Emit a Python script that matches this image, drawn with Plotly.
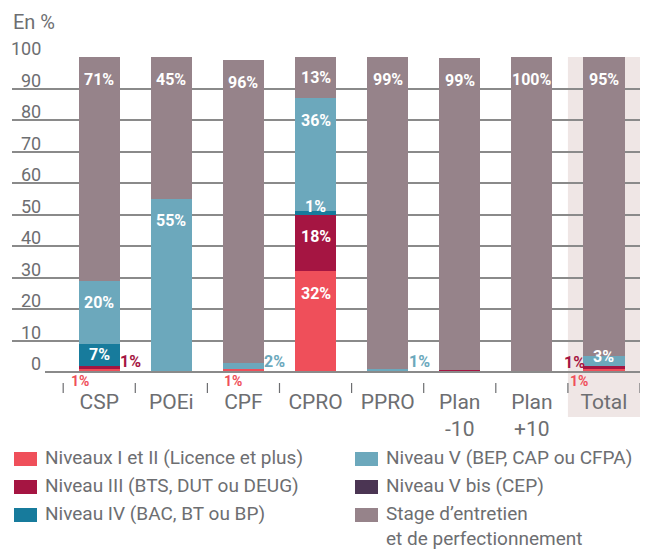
import plotly.graph_objects as go

# ---- data -------------------------------------------------------------
categories = ["CSP", "POEi", "CPF", "CPRO", "PPRO", "Plan -10", "Plan +10", "Total"]
tick_labels = ["CSP", "POEi", "CPF", "CPRO", "PPRO", "Plan<br>-10", "Plan<br>+10", "Total"]

series_names = [
    "Niveaux I et II (Licence et plus)",
    "Niveau III (BTS, DUT ou DEUG)",
    "Niveau IV (BAC, BT ou BP)",
    "Niveau V (BEP, CAP ou CFPA)",
    "Niveau V bis (CEP)",
    "Stage d\u2019entretien<br>et de perfectionnement",
]
niv_1_2 = [1, 0, 1, 32, 0, 0.3, 0, 1]
niv_3 = [1, 0, 0, 18, 0, 0.3, 0, 1]
niv_4 = [7, 0, 0, 1, 0, 0, 0, 0]
niv_5 = [20, 55, 2, 36, 1, 0, 0, 3]
niv_5bis = [0, 0, 0, 0, 0, 0, 0, 0]
stage = [71, 45, 96, 13, 99, 99, 100, 95]

y_ticks = [0, 10, 20, 30, 40, 50, 60, 70, 80, 90, 100]

# ---- styling ------------------------------------------------------------
colors = ["#EF4F5A", "#A51542", "#177B9C", "#6CA8BC", "#4B3553", "#96838A"]
GREY = "#6D6E71"
GRID = "#8A8A8A"
FONT = "Roboto"
W, H = 652, 551
ML, MR, MT, MB = 12, 12, 57, 179
PW, PH = W - ML - MR, H - MT - MB
BAR_W = 0.57
X_RANGE = [-1.21, 7.5]

series = [niv_1_2, niv_3, niv_4, niv_5, niv_5bis, stage]


def px_x(x):
    return (x - ML) / PW


def px_y(y):
    return (H - MB - y) / PH


fig = go.Figure()
for name, vals, col in zip(series_names, series, colors):
    fig.add_trace(go.Bar(
        x=categories, y=vals, name=name, width=BAR_W,
        marker=dict(color=col, line=dict(width=0)),
        showlegend=False, hoverinfo="x+y",
    ))

# value labels: where a segment is too thin, the label moves outside the bar
outside = {
    ("CSP", 0): ("below", -9),
    ("CSP", 1): ("right", -2),
    ("CPF", 0): ("below", 0),
    ("CPF", 3): ("right", -2),
    ("PPRO", 3): ("right", -1),
    ("Total", 0): ("below", -14),
    ("Total", 1): ("left", 4),
    ("CPRO", 2): ("over", 5),
    ("Total", 3): ("over", 0),
}
annotations = []
for ci, cat in enumerate(categories):
    base = 0.0
    for si, vals in enumerate(series):
        v = vals[ci]
        if v < 1:
            base += v
            continue
        top = base + v
        label = f"{v:g}%"
        mode = outside.get((cat, si))
        if mode is None:
            y = max(top - 7, (base + top) / 2)
            annotations.append(dict(x=ci, y=y, xref="x", yref="y", text=label, showarrow=False,
                                    yanchor="middle", font=dict(family=FONT, size=16, color="white", weight=700)))
        elif mode[0] == "over":
            annotations.append(dict(x=ci, y=top, xref="x", yref="y", text=label, showarrow=False,
                                    yanchor="middle", yshift=mode[1],
                                    font=dict(family=FONT, size=16, color="white", weight=700)))
        elif mode[0] == "right":
            annotations.append(dict(x=ci + BAR_W / 2, y=0, xref="x", yref="y", text=label, showarrow=False,
                                    xanchor="left", yanchor="bottom", xshift=mode[1], yshift=-1,
                                    font=dict(family=FONT, size=16, color=colors[si], weight=700)))
        elif mode[0] == "left":
            annotations.append(dict(x=ci - BAR_W / 2, y=0, xref="x", yref="y", text=label, showarrow=False,
                                    xanchor="right", yanchor="bottom", xshift=mode[1], yshift=-2,
                                    font=dict(family=FONT, size=16, color=colors[si], weight=700)))
        else:  # below the axis
            annotations.append(dict(x=ci - BAR_W / 2, y=0, xref="x", yref="y", text=label, showarrow=False,
                                    xanchor="left", yanchor="top", xshift=mode[1], yshift=0,
                                    borderpad=0, font=dict(family=FONT, size=14, color=colors[si], weight=700)))
        base = top

# y tick labels sit on top of their gridlines
for t in y_ticks:
    annotations.append(dict(x=px_x(43), y=t, xref="paper", yref="y", text=str(t), showarrow=False,
                            xanchor="right", yanchor="bottom", yshift=-4,
                            font=dict(family=FONT, size=18, color=GREY)))

annotations.append(dict(x=px_x(11), y=px_y(22), xref="paper", yref="paper", text="En %", showarrow=False,
                        xanchor="left", yanchor="middle", font=dict(family=FONT, size=20, color=GREY)))

shapes = []
# shaded "Total" column
shapes.append(dict(type="rect", xref="x", yref="paper", x0=len(categories) - 1.5, x1=len(categories) - 0.5,
                   y0=px_y(417), y1=1, fillcolor="#EFE6E5", line=dict(width=0), layer="below"))
# baseline
shapes.append(dict(type="line", xref="paper", yref="paper", x0=px_x(45), x1=1, y0=0, y1=0,
                   line=dict(color=GRID, width=2)))
# category separators under the axis
for i in range(len(categories) + 1):
    shapes.append(dict(type="line", xref="x", yref="paper", x0=i - 0.5, x1=i - 0.5,
                       y0=px_y(383), y1=px_y(393), line=dict(color=GREY, width=1.2)))

# legend, two columns
legend_order = [0, 3, 1, 4, 2, 5]
col_x = [14, 355]
row_y = [459, 487, 515]
for k, si in enumerate(legend_order):
    cx = col_x[k % 2]
    cy = row_y[k // 2]
    shapes.append(dict(type="rect", xref="paper", yref="paper", x0=px_x(cx), x1=px_x(cx + 23),
                       y0=px_y(cy + 7), y1=px_y(cy - 7), fillcolor=colors[si], line=dict(width=0)))
    annotations.append(dict(x=px_x(cx + 30), y=px_y(cy - 14), xref="paper", yref="paper",
                            text=series_names[si], showarrow=False, xanchor="left", yanchor="top", align="left",
                            borderpad=0, font=dict(family=FONT, size=19, color=GREY)))

fig.update_layout(
    width=W, height=H, margin=dict(l=ML, r=MR, t=MT, b=MB),
    barmode="stack", plot_bgcolor="white", paper_bgcolor="white",
    font=dict(family=FONT, color=GREY),
    annotations=annotations, shapes=shapes, showlegend=False,
    xaxis=dict(type="category", range=X_RANGE, tickvals=categories, ticktext=tick_labels,
               ticks="", showgrid=False, showline=False, zeroline=False,
               tickfont=dict(family=FONT, size=21, color=GREY), ticklabelstandoff=15),
    yaxis=dict(range=[0, 100], tickvals=y_ticks[1:], showticklabels=False, showgrid=True,
               gridcolor=GRID, gridwidth=1.8, zeroline=False, showline=False),
)

fig.write_html("out.html")
